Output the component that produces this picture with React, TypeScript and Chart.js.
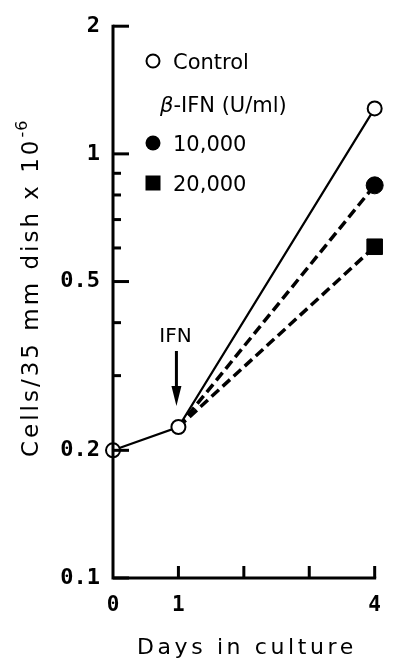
import React, { useEffect, useRef } from "react";
import { Chart, registerables } from "chart.js";

Chart.register(...registerables);

// ---- data ----
const controlDays = [0, 1, 4];
const controlCells = [0.2, 0.227, 1.28];
const ifn10000Days = [1, 4];
const ifn10000Cells = [0.227, 0.843];
const ifn20000Days = [1, 4];
const ifn20000Cells = [0.227, 0.604];

const yMajorTicks = [0.1, 0.2, 0.5, 1, 2];
const yMinorTicks = [0.3, 0.4, 0.6, 0.7, 0.8, 0.9];
const xTickValues = [0, 1, 2, 3, 4];
const xLabeledTicks = [0, 1, 4];

const legendLabels = ["Control", "10,000", "20,000"];
const legendHeaderGreek = "β";
const legendHeaderRest = "-IFN (U/ml)";
const yTitle = "Cells/35 mm dish x 10";
const yTitleExp = "-6";
const xTitle = "Days in culture";
const arrowLabel = "IFN";
const arrowDay = 1;

const toPoints = (xs: number[], ys: number[]) => xs.map((x, i) => ({ x, y: ys[i] }));

const SANS = '"DejaVu Sans"';

const decorPlugin = {
  id: "decor",
  afterDraw(chart: any) {
    const { ctx, chartArea: ca, scales } = chart;
    const xs = scales.x;
    const ys = scales.y;
    ctx.save();
    ctx.strokeStyle = "#000";
    ctx.fillStyle = "#000";

    const seg = (x1: number, y1: number, x2: number, y2: number, w: number) => {
      ctx.lineWidth = w;
      ctx.beginPath();
      ctx.moveTo(x1, y1);
      ctx.lineTo(x2, y2);
      ctx.stroke();
    };

    // axes
    ctx.lineWidth = 3;
    ctx.lineJoin = "miter";
    ctx.lineCap = "square";
    ctx.beginPath();
    ctx.moveTo(ca.left, ys.getPixelForValue(yMajorTicks[yMajorTicks.length - 1]));
    ctx.lineTo(ca.left, ca.bottom);
    ctx.lineTo(xs.getPixelForValue(xTickValues[xTickValues.length - 1]), ca.bottom);
    ctx.stroke();
    ctx.lineCap = "butt";

    // y ticks (inward)
    yMajorTicks.forEach((v) => {
      const y = ys.getPixelForValue(v);
      seg(ca.left, y, ca.left + 16, y, 3);
    });
    yMinorTicks.forEach((v) => {
      const y = ys.getPixelForValue(v);
      seg(ca.left, y, ca.left + 8, y, 3);
    });
    // x ticks (inward)
    xTickValues.forEach((v) => {
      if (v === xTickValues[0]) return;
      const x = xs.getPixelForValue(v);
      seg(x, ca.bottom, x, ca.bottom - 12, 3);
    });

    // y title
    ctx.save();
    ctx.translate(38, 457);
    ctx.rotate(-Math.PI / 2);
    ctx.textAlign = "left";
    ctx.textBaseline = "alphabetic";
    ctx.font = `23px ${SANS}`;
    (ctx as any).letterSpacing = "3px";
    ctx.fillText(yTitle, 0, 0);
    const w = ctx.measureText(yTitle).width;
    ctx.font = `16px ${SANS}`;
    (ctx as any).letterSpacing = "1px";
    ctx.fillText(yTitleExp, w, -11);
    ctx.restore();

    // x title
    ctx.save();
    ctx.font = `22px ${SANS}`;
    (ctx as any).letterSpacing = "3.6px";
    ctx.textAlign = "left";
    ctx.textBaseline = "alphabetic";
    ctx.fillText(xTitle, 137, 654);
    ctx.restore();

    // legend
    ctx.save();
    ctx.textAlign = "left";
    ctx.textBaseline = "alphabetic";
    ctx.font = `21px ${SANS}`;
    const mx = 153;
    const tx = 173;
    // control
    ctx.lineWidth = 2;
    ctx.beginPath();
    ctx.arc(mx, 61, 6.5, 0, Math.PI * 2);
    ctx.fillStyle = "#fff";
    ctx.fill();
    ctx.stroke();
    ctx.fillStyle = "#000";
    ctx.fillText(legendLabels[0], tx, 69);
    // header
    ctx.font = `italic 21px ${SANS}`;
    ctx.fillText(legendHeaderGreek, 160, 112);
    const gw = ctx.measureText(legendHeaderGreek).width;
    ctx.font = `21px ${SANS}`;
    ctx.fillText(legendHeaderRest, 160 + gw, 112);
    // 10,000
    ctx.beginPath();
    ctx.arc(mx, 143, 7.5, 0, Math.PI * 2);
    ctx.fill();
    ctx.fillText(legendLabels[1], tx, 151);
    // 20,000
    ctx.fillRect(mx - 7.5, 183 - 7.5, 15, 15);
    ctx.fillText(legendLabels[2], tx, 191);
    ctx.restore();

    // IFN arrow
    const ax = xs.getPixelForValue(arrowDay) - 2;
    const tip = ys.getPixelForValue(controlCells[1]) - 21;
    const top = tip - 55;
    seg(ax, top, ax, tip - 18, 3);
    ctx.beginPath();
    ctx.moveTo(ax - 5, tip - 20);
    ctx.lineTo(ax + 5, tip - 20);
    ctx.lineTo(ax, tip);
    ctx.closePath();
    ctx.fill();
    ctx.font = `20px ${SANS}`;
    ctx.textAlign = "center";
    ctx.textBaseline = "alphabetic";
    ctx.fillText(arrowLabel, ax - 1, top - 9);

    ctx.restore();
  },
};

export default function App() {
  const ref = useRef<HTMLCanvasElement | null>(null);

  useEffect(() => {
    if (!ref.current) return;
    const chart = new Chart(ref.current, {
      type: "line",
      data: {
        datasets: [
          {
            label: legendLabels[0],
            data: toPoints(controlDays, controlCells),
            borderColor: "#000",
            borderWidth: 2.2,
            pointRadius: 7,
            pointBorderWidth: 2,
            pointBackgroundColor: "#fff",
            pointBorderColor: "#000",
            pointStyle: "circle",
            order: 0,
            clip: false,
          },
          {
            label: legendLabels[1],
            data: toPoints(ifn10000Days, ifn10000Cells),
            borderColor: "#000",
            borderWidth: 3.5,
            borderDash: [10, 5],
            pointRadius: [0, 8.5],
            pointBorderWidth: 1,
            pointBackgroundColor: "#000",
            pointBorderColor: "#000",
            pointStyle: "circle",
            order: 1,
            clip: false,
          },
          {
            label: legendLabels[2],
            data: toPoints(ifn20000Days, ifn20000Cells),
            borderColor: "#000",
            borderWidth: 3.5,
            borderDash: [10, 5],
            pointRadius: [0, 11],
            pointBorderWidth: 1,
            pointBackgroundColor: "#000",
            pointBorderColor: "#000",
            pointStyle: "rect",
            order: 2,
            clip: false,
          },
        ],
      },
      options: {
        responsive: false,
        animation: false,
        events: [],
        layout: { padding: { top: 20, right: 10, left: 0, bottom: 0 } },
        plugins: { legend: { display: false }, tooltip: { enabled: false } },
        scales: {
          x: {
            type: "linear",
            min: 0,
            max: 4,
            afterFit(s: any) {
              s.height = 83;
            },
            afterBuildTicks(s: any) {
              s.ticks = xTickValues.map((v) => ({ value: v }));
            },
            grid: { display: false, drawTicks: false },
            border: { display: false },
            ticks: {
              autoSkip: false,
              maxRotation: 0,
              padding: 15,
              color: "#000",
              font: { family: "DejaVu Sans Mono", size: 21, weight: "bold" },
              callback: (v: any) => (xLabeledTicks.includes(Number(v)) ? String(v) : ""),
            },
          },
          y: {
            type: "logarithmic",
            min: 0.1,
            max: 2,
            afterFit(s: any) {
              s.width = 113;
            },
            afterBuildTicks(s: any) {
              s.ticks = [...yMajorTicks, ...yMinorTicks]
                .sort((a, b) => a - b)
                .map((v) => ({ value: v }));
            },
            grid: { display: false, drawTicks: false },
            border: { display: false },
            ticks: {
              autoSkip: false,
              padding: 13,
              color: "#000",
              font: { family: "DejaVu Sans Mono", size: 22, weight: "bold" },
              callback: (v: any) => (yMajorTicks.includes(Number(v)) ? String(v) : ""),
            },
          },
        },
      },
      plugins: [decorPlugin],
    } as any);
    return () => chart.destroy();
  }, []);

  return (
    <div style={{ position: "fixed", left: 0, top: 0, width: 396, height: 661, background: "#fff" }}>
      <canvas ref={ref} width={396} height={661} style={{ display: "block" }} />
    </div>
  );
}
